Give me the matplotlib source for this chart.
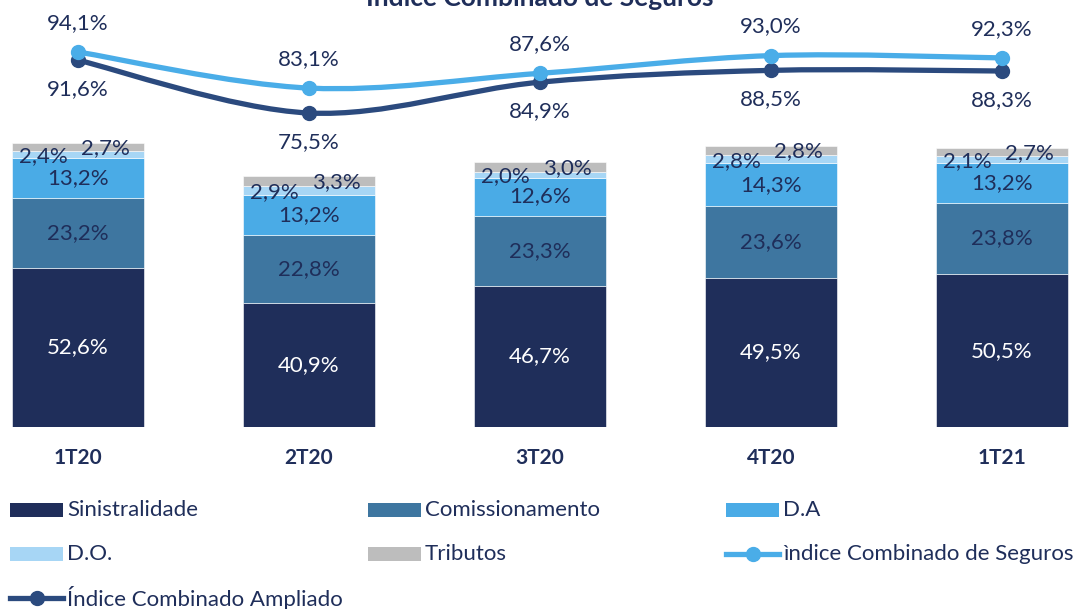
import matplotlib.pyplot as plt
from matplotlib.path import Path
from matplotlib.patches import PathPatch, Rectangle
from matplotlib.lines import Line2D
import numpy as np

plt.rcParams['font.family'] = ['Lato', 'DejaVu Sans']

periods = ['1T20', '2T20', '3T20', '4T20', '1T21']
sinistralidade = [52.6, 40.9, 46.7, 49.5, 50.5]
comissionamento = [23.2, 22.8, 23.3, 23.6, 23.8]
d_a = [13.2, 13.2, 12.6, 14.3, 13.2]
d_o = [2.4, 2.9, 2.0, 2.8, 2.1]
tributos = [2.7, 3.3, 3.0, 2.8, 2.7]
ic_seguros = [94.1, 83.1, 87.6, 93.0, 92.3]
ic_ampliado = [91.6, 75.5, 84.9, 88.5, 88.3]

txt = '#1f2e5a'
seg_colors = ['#1f2e5a', '#3e76a0', '#4aabe6', '#a7d6f5', '#bdbdbd']
seg_names = ['Sinistralidade', 'Comissionamento', 'D.A', 'D.O.', 'Tributos']
light_line = '#4aade8'
dark_line = '#2b4a7e'
lab_fs = 16

W, H = 1074, 609
fig = plt.figure(figsize=(W / 100, H / 100), dpi=100)
ax_bottom, ax_top = 427, 20
ax = fig.add_axes([0, (H - ax_bottom) / H, 1, (ax_bottom - ax_top) / H])
x = np.arange(len(periods))
ax.set_xlim(-78 / 231, (W - 78) / 231)
ax.set_ylim(0, (ax_bottom - ax_top) / 3.02)
ax.axis('off')

series = [sinistralidade, comissionamento, d_a, d_o, tributos]
bottom = np.zeros(len(periods))
for k, (vals, col) in enumerate(zip(series, seg_colors)):
    vals = np.array(vals)
    ax.bar(x, vals, 0.572, bottom=bottom, color=col, edgecolor='white', linewidth=0.4)
    for i, v in enumerate(vals):
        yc = bottom[i] + v / 2
        lab = f'{v:.1f}'.replace('.', ',') + '%'
        if k == 0:
            ax.text(x[i], yc, lab, ha='center', va='center', color='white', fontsize=lab_fs)
        elif k in (1, 2):
            ax.text(x[i], yc, lab, ha='center', va='center', color=txt, fontsize=lab_fs)
        elif k == 3:
            ax.text(x[i] - 0.148, yc - 0.6, lab, ha='center', va='center', color=txt, fontsize=lab_fs)
        else:
            ax.text(x[i] + 0.117, yc - 0.3, lab, ha='center', va='center', color=txt, fontsize=lab_fs)
    bottom += vals

for i, p in enumerate(periods):
    ax.text(x[i], -10.3, p, ha='center', va='center', color=txt, fontsize=15,
            fontweight='bold', clip_on=False)

ax2 = ax.twinx()
ax2.set_ylim(94.1 - (ax_bottom - 52) / 3.28, 94.1 + (52 - ax_top) / 3.28)
ax2.axis('off')


def smooth_path(xs, ys):
    pts = np.column_stack([xs, ys])
    verts = [pts[0]]
    codes = [Path.MOVETO]
    n = len(pts)
    for i in range(n - 1):
        p0 = pts[max(i - 1, 0)]
        p1 = pts[i]
        p2 = pts[i + 1]
        p3 = pts[min(i + 2, n - 1)]
        c1 = p1 + (p2 - p0) / 6
        c2 = p2 - (p3 - p1) / 6
        verts += [c1, c2, p2]
        codes += [Path.CURVE4] * 3
    return Path(verts, codes)


for vals, col, off in [(ic_ampliado, dark_line, -21), (ic_seguros, light_line, 21)]:
    ax2.add_patch(PathPatch(smooth_path(x, vals), facecolor='none', edgecolor=col,
                            lw=3.8, capstyle='round'))
    ax2.plot(x, vals, 'o', color=col, markersize=10, zorder=5)
    for i, v in enumerate(vals):
        lab = f'{v:.1f}'.replace('.', ',') + '%'
        ax2.annotate(lab, (x[i], v), xytext=(0, off), textcoords='offset points',
                     ha='center', va='center', color=txt, fontsize=lab_fs)

fig.text(0.503, 1.008, 'Índice Combinado de Seguros', ha='center', va='center',
         color=txt, fontsize=19, fontweight='bold')

# legend, laid out in a 3-column grid
leg_items = [(n, c, 'patch') for n, c in zip(seg_names, seg_colors)]
leg_items.append(('ìndice Combinado de Seguros', light_line, 'line'))
leg_items.append(('Índice Combinado Ampliado', dark_line, 'line'))
col_x = [10, 368, 726]
row_y = [510, 554, 598]
for j, (name, col, kind) in enumerate(leg_items):
    px = col_x[j % 3]
    py = row_y[j // 3]
    if kind == 'patch':
        fig.add_artist(Rectangle((px / W, 1 - (py + 7) / H), 53 / W, 14 / H,
                                 transform=fig.transFigure, facecolor=col, edgecolor='none'))
    else:
        fig.add_artist(Line2D([px / W, (px + 53) / W], [1 - py / H] * 2,
                              transform=fig.transFigure, color=col, lw=3.8))
        fig.add_artist(Line2D([(px + 26.5) / W], [1 - py / H], transform=fig.transFigure,
                              color=col, marker='o', markersize=10))
    fig.text((px + 57) / W, 1 - py / H, name, ha='left', va='center', color=txt, fontsize=16)

fig.savefig('out.png', dpi=100)
